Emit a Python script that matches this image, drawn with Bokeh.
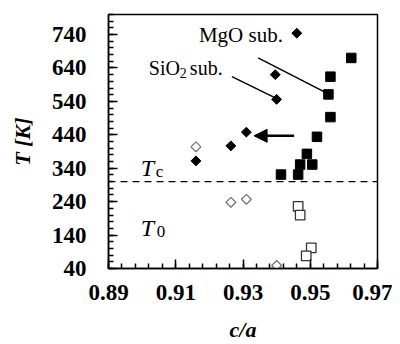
import numpy as np
from bokeh.plotting import figure
from bokeh.models import Range1d, FixedTicker, Span, Label, Arrow, NormalHead
from bokeh.embed import file_html
from bokeh.resources import INLINE

# ---- data ----
sio2_tc_x = [0.946, 0.9396, 0.940, 0.931, 0.9264, 0.916]
sio2_tc_y = [744, 620, 546, 448, 407, 362]
sio2_t0_x = [0.916, 0.9264, 0.931, 0.940]
sio2_t0_y = [404, 238, 247, 49]
mgo_tc_x = [0.9622, 0.956, 0.9554, 0.956, 0.952, 0.949, 0.947, 0.9506, 0.9413, 0.9464]
mgo_tc_y = [670, 614, 561, 493, 434, 383, 351, 351, 321, 321]
mgo_t0_x = [0.9464, 0.947, 0.9503, 0.9488]
mgo_t0_y = [226, 200, 102, 78]
tc_line = 300

x_major = [0.89, 0.91, 0.93, 0.95, 0.97]
y_major = [40, 140, 240, 340, 440, 540, 640, 740]
x_labels = ["0.89", "0.91", "0.93", "0.95", "0.97"]

FONT = "Liberation Serif"

p = figure(width=392, height=344, output_backend="svg", toolbar_location=None,
           x_range=Range1d(0.89, 0.97), y_range=Range1d(40, 800),
           min_border_left=108, min_border_right=15, min_border_top=14,
           min_border_bottom=74)
p.grid.visible = False
p.background_fill_color = "white"
p.border_fill_color = "white"
p.outline_line_color = "black"
p.outline_line_width = 1.5

for ax in (p.xaxis[0], p.yaxis[0]):
    ax.axis_line_width = 1.5
    ax.axis_line_color = "black"
    ax.major_tick_in = 9
    ax.major_tick_out = 0
    ax.minor_tick_in = 5
    ax.minor_tick_out = 0
    ax.major_tick_line_width = 1.5
    ax.minor_tick_line_width = 1.5
    ax.major_tick_line_color = "black"
    ax.minor_tick_line_color = "black"
    ax.major_label_text_font = FONT
    ax.major_label_text_font_style = "bold"
    ax.major_label_text_font_size = "23px"
    ax.major_label_text_color = "black"
    ax.major_label_text_line_height = 1.0
    ax.axis_label_text_font = FONT
    ax.axis_label_text_font_style = "bold italic"
    ax.axis_label_text_font_size = "22px"
    ax.axis_label_text_color = "black"
    ax.axis_label_text_line_height = 1.0

p.xaxis.ticker = FixedTicker(ticks=x_major,
                             minor_ticks=[round(0.89 + 0.004 * i, 3) for i in range(21)])
p.xaxis.major_label_overrides = {v: s for v, s in zip(x_major, x_labels)}
p.xaxis.major_label_standoff = 16
p.xaxis.axis_label = "c/a"
p.xaxis.axis_label_standoff = 14
p.yaxis.ticker = FixedTicker(ticks=y_major, minor_ticks=list(range(40, 801, 20)))
p.yaxis.major_label_standoff = 22
p.yaxis.axis_label = "T [K]"
p.yaxis.axis_label_standoff = 14

# dashed Tc line
p.add_layout(Span(location=tc_line, dimension="width", line_color="black",
                  line_width=1.4, line_dash="7 5"))

# markers
p.scatter(sio2_tc_x, sio2_tc_y, marker="square", angle=np.pi / 4, size=7,
          fill_color="black", line_color="black")
p.scatter(sio2_t0_x, sio2_t0_y, marker="square", angle=np.pi / 4, size=7,
          fill_color="white", line_color="#777777", line_width=1.3)
p.scatter(mgo_tc_x, mgo_tc_y, marker="square", size=9.5,
          fill_color="black", line_color="black")
p.scatter(mgo_t0_x, mgo_t0_y, marker="square", size=9.5,
          fill_color="white", line_color="#333333", line_width=1.3)

# leader lines
p.segment(x0=[0.9345, 0.9267], y0=[670, 614], x1=[0.9545, 0.9393], y1=[567, 552],
          line_color="black", line_width=1.5)

# arrow
p.add_layout(Arrow(end=NormalHead(size=13, fill_color="black", line_color="black"),
                   x_start=0.9452, y_start=437, x_end=0.9333, y_end=437,
                   line_width=2.5, line_color="black"))

def lab(x, y, text, size="20px", style="normal", dx=0, dy=0, align="left",
        baseline="middle"):
    p.add_layout(Label(x=x, y=y, text=text, x_offset=dx, y_offset=dy,
                       text_font=FONT, text_font_size=size, text_font_style=style,
                       text_align=align, text_baseline=baseline,
                       text_color="black"))

# annotations
lab(0.9169, 738, "MgO sub.", size="21px")
lab(0.902, 641, "SiO")
lab(0.902, 641, "2", size="14px", dx=31, dy=-5)
lab(0.902, 641, "sub.", dx=41)

lab(0.8996, 342, "T", size="24px", style="italic")
lab(0.8996, 342, "c", size="17px", dx=15, dy=-4)
lab(0.8996, 162, "T", size="24px", style="italic")
lab(0.8996, 162, "0", size="17px", dx=16, dy=-4)

open("out.html", "w").write(file_html(p, INLINE))
